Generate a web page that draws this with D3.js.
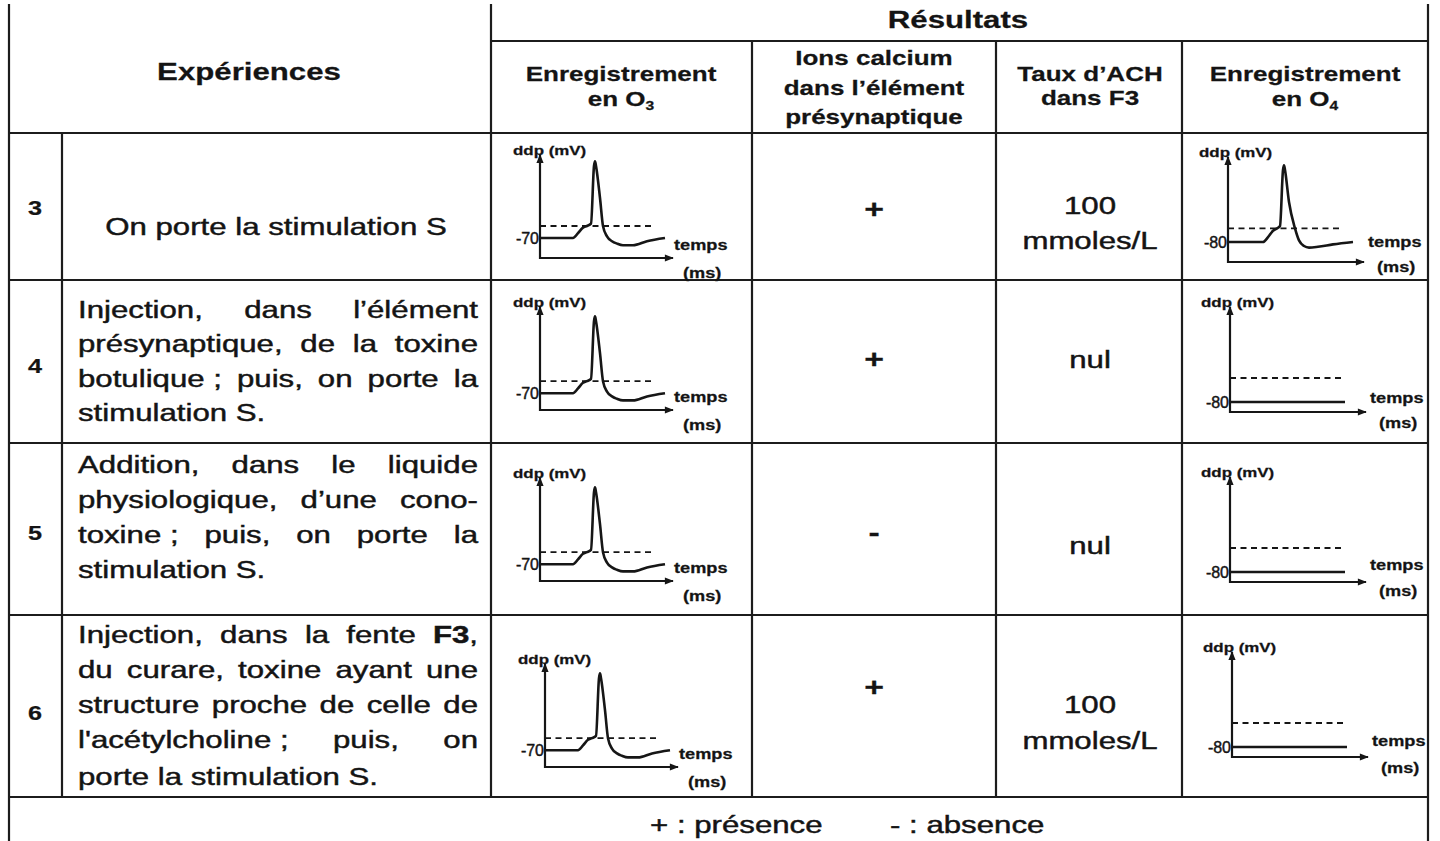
<!DOCTYPE html>
<html><head><meta charset="utf-8">
<script src="https://cdn.jsdelivr.net/npm/d3@7"></script>
<style>
html,body{margin:0;padding:0;background:#fff;}
svg text{font-family:"Liberation Sans",Arial,Helvetica,sans-serif;fill:#141414;stroke:#141414;stroke-width:0.45px;paint-order:stroke;}
svg text[font-weight="bold"]{stroke-width:0.25px;}
</style></head><body>
<svg id="chart" width="1440" height="841"></svg>
<script>
// ---------------- DATA ----------------
const experiences = ["3", "4", "5", "6"];
const descriptions = [
  ["On porte la stimulation S"],
  ["Injection, dans l’élément", "présynaptique, de la toxine", "botulique\u00a0; puis, on porte la", "stimulation S."],
  ["Addition, dans le liquide", "physiologique, d’une cono-", "toxine\u00a0; puis, on porte la", "stimulation S."],
  ["Injection, dans la fente *F3*,", "du curare, toxine ayant une", "structure proche de celle de", "l'acétylcholine\u00a0; puis, on", "porte la stimulation S."]
];
const headerLeft = "Expériences";
const headerRight = "Résultats";
const resultColumns = [
  ["Enregistrement", "en O_3"],
  ["Ions calcium", "dans l’élément", "présynaptique"],
  ["Taux d’ACH", "dans F3"],
  ["Enregistrement", "en O_4"]
];
const ionsCalcium = ["+", "+", "-", "+"];
const tauxACH = [["100", "mmoles/L"], ["nul"], ["nul"], ["100", "mmoles/L"]];
const legendItems = ["+ : présence", "- : absence"];

// recordings (time in ms, nominal; ddp in mV)
const apTimeO3 = [0, 33, 38, 43, 47, 51, 54, 55, 56, 60, 63, 67, 72, 77, 83, 93, 107, 125];
const apVoltO3 = [-70, -70, -64, -57, -55, -52, 20, 26, 20, -20, -55, -68, -74, -77, -79, -79, -74, -70];
const apTimeO4 = [0, 35, 40, 45, 49, 52, 55, 56, 57, 61, 67, 71, 76, 81, 90, 105, 125];
const apVoltO4 = [-80, -80, -74, -66, -63, -60, 10, 16, 10, -30, -63, -78, -85, -87, -86, -83, -80];
const flatTimeO4 = [0, 115];
const flatVoltO4 = [-80, -80];
const restO3 = -70, restO4 = -80;
const thresholdO3 = -55, thresholdO4 = -63;
const thresholdSpan = [0, 113];
const o4HasSpike = [true, false, false, false];
const axisLabelY = "ddp (mV)";
const axisLabelX = ["temps", "(ms)"];

// ---------------- LAYOUT ----------------
const SX = 1.3;
const svg = d3.select("#chart");
const col = {left: 9, num: 62, mid: 491, c1: 752, c2: 996, c3: 1182, right: 1428};
const rowY = [133, 280, 443, 615, 797];
const headSplit = 41, topY = 4, botY = 841;
const ink = "#161616";

const defs = svg.append("defs");
defs.append("marker").attr("id", "arrow").attr("viewBox", "0 0 10 10")
  .attr("refX", 9).attr("refY", 5).attr("markerWidth", 10).attr("markerHeight", 9)
  .attr("markerUnits", "userSpaceOnUse").attr("orient", "auto")
  .append("path").attr("d", "M0,1 L10,5 L0,9 Z").attr("fill", ink);

function addRich(t, s, size) {
  const parts = s.split(/(\*[^*]+\*|_\d)/).filter(p => p.length);
  parts.forEach(p => {
    if (p.startsWith("*")) t.append("tspan").attr("font-weight", "bold").text(p.slice(1, -1));
    else if (p.startsWith("_")) t.append("tspan").attr("font-size", Math.round(size * 0.62)).attr("dy", size * 0.2).text(p.slice(1));
    else t.append("tspan").text(p);
  });
}
function txt(g, x, y, s, size, weight, anchor, sx) {
  sx = sx || SX;
  const t = g.append("text")
    .attr("transform", `translate(${x},${y}) scale(${sx},1)`)
    .attr("text-anchor", anchor || "middle")
    .attr("font-size", size).attr("font-weight", weight || "normal");
  addRich(t, s, size);
  return t;
}
function justifyLine(g, x0, x1, y, line, size, isLast) {
  const words = line.split(" ");
  const nodes = words.map(w => {
    const t = txt(g, 0, y, w, size, "normal", "start");
    return {t, w: t.node().getComputedTextLength() * SX};
  });
  const total = d3.sum(nodes, d => d.w);
  const space = 0.278 * size * SX;
  const gap = (isLast || nodes.length < 2) ? space : (x1 - x0 - total) / (nodes.length - 1);
  let x = x0;
  nodes.forEach(n => { n.t.attr("transform", `translate(${x},${y}) scale(${SX},1)`); x += n.w + gap; });
}

// ---------------- GRID ----------------
const grid = svg.append("g").attr("stroke", "#1c1c1c").attr("stroke-width", 2.2);
const hLines = [
  [col.mid, col.right, headSplit],
  ...rowY.map(y => [col.left, col.right, y])
];
hLines.forEach(([x0, x1, y]) => grid.append("line").attr("x1", x0).attr("x2", x1).attr("y1", y).attr("y2", y));
const vLines = [
  [col.left, topY, botY], [col.right, topY, botY], [col.mid, topY, rowY[4]],
  [col.num, rowY[0], rowY[4]], [col.c1, headSplit, rowY[4]], [col.c2, headSplit, rowY[4]], [col.c3, headSplit, rowY[4]]
];
vLines.forEach(([x, y0, y1]) => grid.append("line").attr("x1", x).attr("x2", x).attr("y1", y0).attr("y2", y1));

// ---------------- HEADERS ----------------
const tg = svg.append("g");
txt(tg, 249, 80, headerLeft, 24, "bold");
txt(tg, 958, 28, headerRight, 24, "bold");
const colCenters = [621, 874, 1090, 1305];
const headBaselines = [[81, 106], [65, 95, 124], [81, 105], [81, 106]];
resultColumns.forEach((lines, i) => {
  lines.forEach((l, j) => txt(tg, colCenters[i], headBaselines[i][j], l, 20, "bold"));
});

// ---------------- ROWS ----------------
const numBase = [215, 373, 540, 720];
const descBase = [[235], [318, 352, 387, 421], [473, 508, 543, 578], [643, 678, 713, 748, 785]];
experiences.forEach((e, i) => txt(tg, 35, numBase[i], e, 21, "bold", "middle", 1.2));
descriptions.forEach((lines, i) => {
  if (lines.length === 1) {
    txt(tg, 276, descBase[i][0], lines[0], 24, "normal");
  } else {
    lines.forEach((l, j) => justifyLine(tg, 78, 478, descBase[i][j], l, 24, j === lines.length - 1));
  }
});
const ionBase = [218, 368, 541, 696];
ionsCalcium.forEach((s, i) => txt(tg, 874, ionBase[i], s, 26, "bold"));
const tauxBase = [[214, 249], [368], [554], [713, 749]];
tauxACH.forEach((lines, i) => lines.forEach((l, j) => txt(tg, 1090, tauxBase[i][j], l, 24, "normal")));

// legend
txt(tg, 650, 833, legendItems[0], 24, "normal", "start");
txt(tg, 890, 833, legendItems[1], 24, "normal", "start");

// ---------------- MINI CHARTS ----------------
function drawRecording(cfg, time, volt, rest, threshold) {
  const g = svg.append("g");
  const x = d3.scaleLinear().domain([0, cfg.len]).range([cfg.ox, cfg.ox + cfg.len]);
  const yTop = cfg.vAxis + cfg.H / cfg.k;
  const y = d3.scaleLinear().domain([cfg.vAxis, yTop]).range([cfg.oy, cfg.oy - cfg.H]);
  // threshold dashed
  g.append("line")
    .attr("x1", x(thresholdSpan[0])).attr("x2", x(thresholdSpan[1]))
    .attr("y1", y(threshold)).attr("y2", y(threshold))
    .attr("stroke", ink).attr("stroke-width", 1.8).attr("stroke-dasharray", "6,4.5");
  // trace
  const line = d3.line().x((d, i) => x(time[i])).y(d => y(d)).curve(d3.curveMonotoneX);
  g.append("path").attr("d", line(volt)).attr("fill", "none")
    .attr("stroke", ink).attr("stroke-width", 2.6).attr("stroke-linejoin", "round");
  // axes
  g.append("line").attr("x1", x(0)).attr("x2", x(0)).attr("y1", y(cfg.vAxis) + 1).attr("y2", y(yTop))
    .attr("stroke", ink).attr("stroke-width", 2.2).attr("marker-end", "url(#arrow)");
  g.append("line").attr("x1", x(0) - 1).attr("x2", x(cfg.len)).attr("y1", y(cfg.vAxis)).attr("y2", y(cfg.vAxis))
    .attr("stroke", ink).attr("stroke-width", 2.2).attr("marker-end", "url(#arrow)");
  const ax = g.append("g").attr("transform", `translate(${x(0)},0)`)
    .call(d3.axisLeft(y).tickValues([rest]).tickSize(0).tickPadding(1).tickFormat(d => String(d)));
  ax.select(".domain").remove();
  ax.selectAll("text").attr("font-size", 16).attr("font-weight", "normal")
    .style("font-family", '"Liberation Sans",Arial,sans-serif');
  // labels
  txt(g, x(0) - cfg.ddpDx, y(yTop), axisLabelY, 13, "bold", "start");
  txt(g, x(cfg.len) + cfg.tDx, cfg.oy + cfg.tDy, axisLabelX[0], 14, "bold", "start");
  txt(g, x(cfg.len) + cfg.mDx, cfg.oy + cfg.mDy, axisLabelX[1], 14, "bold", "start");
}

const o3Layout = [
  {ox: 540, oy: 258, vAxis: -95}, {ox: 540, oy: 410, vAxis: -91},
  {ox: 540, oy: 581, vAxis: -91}, {ox: 545, oy: 767, vAxis: -91}
];
o3Layout.forEach(c => {
  Object.assign(c, {k: 0.8, H: 103, len: 133, ddpDx: 27, tDx: 1, tDy: -8, mDx: 10, mDy: 20});
  drawRecording(c, apTimeO3, apVoltO3, restO3, thresholdO3);
});
const o4Layout = [
  {ox: 1228, oy: 262, vAxis: -105, k: 0.8, tDy: -15, mDy: 10},
  {ox: 1230, oy: 412, vAxis: -87.1, k: 1.41, tDy: -9, mDy: 16},
  {ox: 1230, oy: 582, vAxis: -87.1, k: 1.41, tDy: -12, mDy: 14},
  {ox: 1232, oy: 757, vAxis: -87.1, k: 1.41, tDy: -11, mDy: 16}
];
o4Layout.forEach((c, i) => {
  Object.assign(c, {H: 105, len: 136, ddpDx: 29, tDx: 4, mDx: 13});
  if (o4HasSpike[i]) drawRecording(c, apTimeO4, apVoltO4, restO4, thresholdO4);
  else drawRecording(c, flatTimeO4, flatVoltO4, restO4, thresholdO4);
});
</script>
</body></html>
